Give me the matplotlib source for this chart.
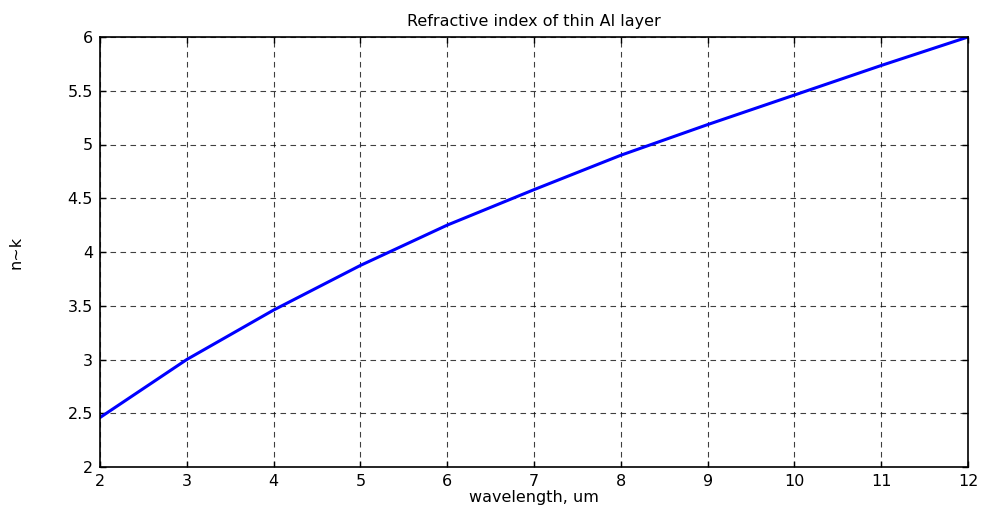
import matplotlib.pyplot as plt

plt.rcParams['font.family'] = ['DejaVu Sans']

# wavelength (um) and n~k values
wavelength = [2, 3, 4, 5, 6, 7, 8, 9, 10, 11, 12]
nk = [2.46, 3.00, 3.46, 3.875, 4.25, 4.58, 4.90, 5.185, 5.46, 5.735, 6.00]

fig = plt.figure(figsize=(9.86, 5.15), dpi=100)
ax = fig.add_axes([100/986, 1 - 467/515, 868/986, 430/515])

ax.plot(wavelength, nk, color='#0000ff', linewidth=2.2)

ax.set_xlim(2, 12)
ax.set_ylim(2, 6)
ax.set_xticks(range(2, 13))
ax.set_yticks([2, 2.5, 3, 3.5, 4, 4.5, 5, 5.5, 6])
ax.set_yticklabels(['2', '2.5', '3', '3.5', '4', '4.5', '5', '5.5', '6'])

ax.grid(True, color='black', linestyle=(0, (5, 4)), linewidth=0.8, alpha=0.75)
ax.tick_params(direction='in', length=4, width=1, labelsize=11.5, top=True, right=True,
               labeltop=False, labelright=False, pad=5)
for s in ax.spines.values():
    s.set_linewidth(1.2)

ax.set_title('Refractive index of thin Al layer', fontsize=11.5, pad=8)
ax.set_xlabel('wavelength, um', fontsize=11.5, labelpad=1)
ax.set_ylabel('n~k', fontsize=11.5, labelpad=32)

fig.savefig('out.png', dpi=100)
